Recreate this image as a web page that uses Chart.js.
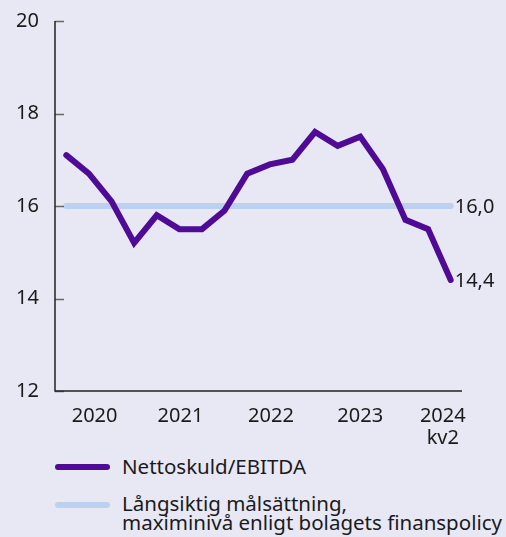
<!DOCTYPE html>
<html>
<head>
<meta charset="utf-8">
<script src="https://cdn.jsdelivr.net/npm/chart.js@4.4.1/dist/chart.umd.min.js"></script>
<style>
    html, body { margin: 0; padding: 0; background: #e8e8f4; }
    body { width: 506px; height: 537px; overflow: hidden; font-family: "Noto Sans", sans-serif; color: #1a1a1a; }
    #wrap { position: relative; width: 506px; height: 445px; }
    .legend { position: absolute; left: 0; top: 445px; width: 506px; }
    .item { position: absolute; left: 0; font-size: 20.5px; line-height: 19px; }
    .swatch { position: absolute; left: 55px; width: 55px; height: 6px; border-radius: 3px; }
    .label { position: absolute; left: 122px; white-space: nowrap; }
</style>
</head>
<body>
<div id="wrap"><canvas id="chart" width="506" height="445"></canvas></div>
<div class="legend" id="legend"></div>
<script>
// Colors
const colors = {
    purple: '#4f0a96',
    lightBlue: '#bcd0f0',
    text: '#1a1a1a',
    axis: '#222222',
    tick: '#666666'
};

// Data (quarterly, 2020 kv1 .. 2024 kv2)
const quarters = ['2020 kv1', '2020 kv2', '2020 kv3', '2020 kv4',
    '2021 kv1', '2021 kv2', '2021 kv3', '2021 kv4',
    '2022 kv1', '2022 kv2', '2022 kv3', '2022 kv4',
    '2023 kv1', '2023 kv2', '2023 kv3', '2023 kv4',
    '2024 kv1', '2024 kv2'];
const netDebtEbitda = [17.1, 16.7, 16.1, 15.2, 15.8, 15.5, 15.5, 15.9,
    16.7, 16.9, 17.0, 17.6, 17.3, 17.5, 16.8, 15.7, 15.5, 14.4];
const targetLevel = 16.0;

// Axis ticks
const yTicks = [12, 14, 16, 18, 20];
const xTickPos = [1.25, 5.05, 9.05, 13, 16.65];
const xTickLabels = [['2020'], ['2021'], ['2022'], ['2023'], ['2024', 'kv2']];

// Legend texts
const seriesLabels = ['Nettoskuld/EBITDA', 'Långsiktig målsättning,\nmaximinivå enligt bolagets finanspolicy'];

const fontFamily = '"Noto Sans", sans-serif';
const fontSize = 20;

// Inner ticks + axis lines + end labels
const axisPlugin = {
    id: 'axisPlugin',
    afterDatasetsDraw(chart) {
        const ctx = chart.ctx;
        const area = chart.chartArea;
        const y = chart.scales.y;
        ctx.save();
        ctx.strokeStyle = colors.tick;
        ctx.lineWidth = 1.5;
        yTicks.forEach(v => {
            const py = Math.round(y.getPixelForValue(v)) + 0.5;
            ctx.beginPath();
            ctx.moveTo(area.left, py);
            ctx.lineTo(area.left + 9, py);
            ctx.stroke();
        });
        ctx.strokeStyle = colors.axis;
        ctx.lineWidth = 1.5;
        ctx.beginPath();
        ctx.moveTo(area.left, area.top);
        ctx.lineTo(area.left, area.bottom);
        ctx.lineTo(area.right, area.bottom);
        ctx.stroke();

        // end value labels
        ctx.fillStyle = colors.text;
        ctx.font = fontSize + 'px ' + fontFamily;
        ctx.textAlign = 'left';
        ctx.textBaseline = 'middle';
        chart.data.datasets.forEach((ds, i) => {
            const meta = chart.getDatasetMeta(i);
            const last = meta.data[meta.data.length - 1];
            const val = ds.data[ds.data.length - 1].y;
            ctx.fillText(val.toFixed(1).replace('.', ','), last.x + 4, last.y + 1);
        });
        ctx.restore();
    }
};

const ctx = document.getElementById('chart').getContext('2d');
const chart = new Chart(ctx, {
    type: 'line',
    data: {
        datasets: [{
            label: seriesLabels[1],
            data: [{ x: 0, y: targetLevel }, { x: quarters.length - 1, y: targetLevel }],
            borderColor: colors.lightBlue,
            borderWidth: 6,
            borderCapStyle: 'round',
            pointRadius: 0,
            order: 2
        }, {
            label: seriesLabels[0],
            data: netDebtEbitda.map((v, i) => ({ x: i, y: v })),
            borderColor: colors.purple,
            borderWidth: 6,
            borderCapStyle: 'round',
            borderJoinStyle: 'miter',
            pointRadius: 0,
            tension: 0,
            order: 1
        }]
    },
    options: {
        responsive: false,
        animation: false,
        layout: { padding: { top: 21, right: 44, left: 0, bottom: 0 } },
        scales: {
            x: {
                type: 'linear',
                min: -0.5,
                max: 17.5,
                afterBuildTicks: axis => { axis.ticks = xTickPos.map(v => ({ value: v })); },
                afterFit: axis => { axis.height = 54; },
                grid: { display: false },
                border: { display: false },
                ticks: {
                    autoSkip: false,
                    maxRotation: 0,
                    padding: 6,
                    color: colors.text,
                    font: { family: fontFamily, size: fontSize, lineHeight: 1.1 },
                    callback: (v, i) => xTickLabels[i]
                }
            },
            y: {
                min: 12,
                max: 20,
                afterBuildTicks: axis => { axis.ticks = yTicks.map(v => ({ value: v })); },
                afterFit: axis => { axis.width = 55; },
                grid: { display: false },
                border: { display: false },
                ticks: {
                    padding: 8,
                    color: colors.text,
                    font: { family: fontFamily, size: fontSize }
                }
            }
        },
        plugins: {
            legend: { display: false },
            tooltip: { enabled: false }
        }
    },
    plugins: [axisPlugin]
});

// HTML legend
const legendItems = [
    { text: seriesLabels[0], color: colors.purple, top: 12, swatchTop: 7 },
    { text: seriesLabels[1], color: colors.lightBlue, top: 49, swatchTop: 8 }
];
document.getElementById('legend').innerHTML = legendItems.map(item => `
    <div class="item" style="top:${item.top}px">
        <div class="swatch" style="background:${item.color}; top:${item.swatchTop}px"></div>
        <div class="label">${item.text.replace('\n', '<br>')}</div>
    </div>
`).join('');
</script>
</body>
</html>
